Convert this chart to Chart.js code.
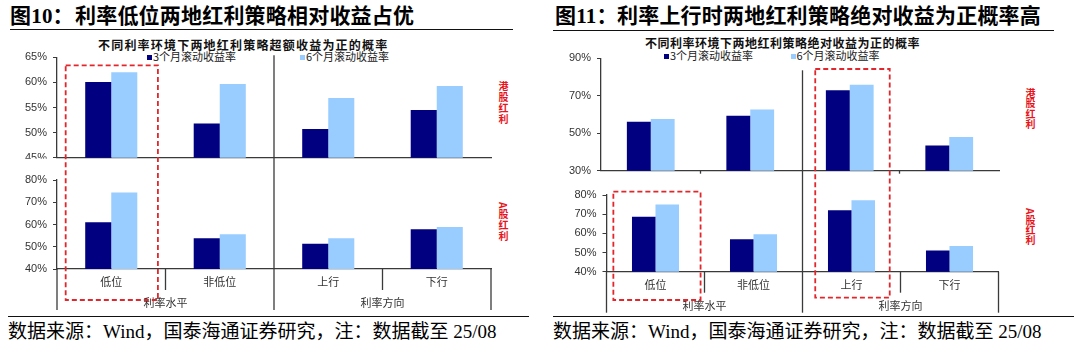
<!DOCTYPE html>
<html><head><meta charset="utf-8">
<script src="https://cdn.jsdelivr.net/npm/chart.js@4.4.0/dist/chart.umd.min.js"></script>
<style>
html,body{margin:0;padding:0;background:#fff;}
body{width:1080px;height:348px;position:relative;overflow:hidden;font-family:"Liberation Serif","Noto Sans CJK SC",serif;color:#000;}
canvas{position:absolute;left:0;top:0;}
.t{position:absolute;white-space:nowrap;}
.title{font-weight:bold;font-size:21px;line-height:21px;letter-spacing:0.2px;}
.sub{font-family:"Noto Sans CJK SC",sans-serif;font-weight:bold;font-size:12px;line-height:12px;color:#111;}
.lg{font-family:"Noto Sans CJK SC",sans-serif;font-size:11px;line-height:11px;color:#222;}
.sq{position:absolute;width:5px;height:5px;}
.red{position:absolute;writing-mode:vertical-rl;text-orientation:mixed;font-family:"Noto Sans CJK SC",sans-serif;font-weight:bold;font-size:10px;color:#e8141b;letter-spacing:1px;}
.hl{position:absolute;height:0;border-top:1.5px solid #111;}
.src{font-size:19px;line-height:19px;}
</style></head>
<body>
<div class="t title" style="left:10px;top:6px">图10：</div>
<div class="t title" style="left:75px;top:6px">利率低位两地红利策略相对收益占优</div>
<div class="t title" style="left:555px;top:6px">图11：</div>
<div class="t title" style="left:617px;top:6px">利率上行时两地红利策略绝对收益为正概率高</div>
<div class="hl" style="left:10px;top:29px;width:503px"></div>
<div class="hl" style="left:553px;top:30px;width:501px"></div>
<div class="t sub" style="left:98px;top:39px;letter-spacing:1.2px">不同利率环境下两地红利策略超额收益为正的概率</div>
<div class="t sub" style="left:645px;top:37px;letter-spacing:0.5px">不同利率环境下两地红利策略绝对收益为正的概率</div>
<div id="legends"></div>
<div class="red" style="left:496px;top:81px">港股红利</div>
<div class="red" style="left:496px;top:202px">A股红利</div>
<div class="red" style="left:1023px;top:88px;letter-spacing:0.4px">港股红利</div>
<div class="red" style="left:1023px;top:208px;letter-spacing:0.4px">A股红利</div>
<div class="hl" style="left:8px;top:316px;width:521px"></div>
<div class="hl" style="left:553px;top:316px;width:521px"></div>
<div class="t src" style="left:8px;top:322px">数据来源：Wind，国泰海通证券研究，注：数据截至 25/08</div>
<div class="t src" style="left:553px;top:322px">数据来源：Wind，国泰海通证券研究，注：数据截至 25/08</div>

<canvas id="cLT" width="1080" height="348"></canvas>
<canvas id="cLB" width="1080" height="348"></canvas>
<canvas id="cRT" width="1080" height="348"></canvas>
<canvas id="cRB" width="1080" height="348"></canvas>

<script>
// ---- data ----
const categories = ['低位', '非低位', '上行', '下行'];
const groupLabels = ['利率水平', '利率方向'];
const seriesNames = ['3个月滚动收益率', '6个月滚动收益率'];
// 图10: 超额收益为正的概率 (%)
const excessHK3m = [60.1, 51.8, 50.7, 54.5];
const excessHK6m = [62.0, 59.7, 56.9, 59.3];
const excessA3m  = [61.0, 53.8, 51.4, 57.9];
const excessA6m  = [74.4, 55.6, 53.8, 58.9];
// 图11: 绝对收益为正的概率 (%)
const absHK3m = [56.1, 59.3, 72.9, 43.5];
const absHK6m = [57.6, 62.7, 75.9, 48.0];
const absA3m  = [68.6, 56.9, 72.0, 51.1];
const absA6m  = [75.1, 59.5, 77.2, 53.4];
// y-axis tick settings [min, max, step]
const ticksLT = [45, 65, 5];
const ticksLB = [40, 80, 10];
const ticksRT = [30, 90, 20];
const ticksRB = [40, 80, 10];

const colors = ['#000080', '#99ccff'];
const charts = {};

// legends
(function(){
  const host = document.getElementById('legends');
  const spots = [[147, 57], [300, 57], [664, 56], [790.5, 56]];
  spots.forEach((p, k) => {
    const i = k % 2;
    const sq = document.createElement('div');
    sq.className = 'sq'; sq.style.background = colors[i];
    sq.style.left = p[0] + 'px'; sq.style.top = (p[1] - 2.5) + 'px';
    host.appendChild(sq);
    const tx = document.createElement('div');
    tx.className = 't lg'; tx.textContent = seriesNames[i];
    tx.style.left = (p[0] + 6) + 'px'; tx.style.top = (p[1] - 6.5) + 'px';
    host.appendChild(tx);
  });
})();

const deco = {
  id: 'deco',
  afterDraw(chart, args, o) {
    const ctx = chart.ctx, x = chart.scales.x, a = chart.chartArea;
    const cw = x.getPixelForValue(1) - x.getPixelForValue(0);
    const bnd = i => x.getPixelForValue(i) + cw / 2;
    const line = (x1, y1, x2, y2) => { ctx.beginPath(); ctx.moveTo(x1, y1); ctx.lineTo(x2, y2); ctx.stroke(); };
    ctx.save();
    ctx.strokeStyle = '#3a3a3a'; ctx.lineWidth = 1.3;
    if (o.cover) { ctx.fillStyle = '#fff'; ctx.fillRect(0, a.bottom + 1, a.left - 2, 9); }
    if (o.smallTicks) { line(bnd(0), a.bottom, bnd(0), a.bottom + 3); line(bnd(2), a.bottom, bnd(2), a.bottom + 3); }
    if (o.bottomAxis) {
      const b = a.bottom;
      line(bnd(0), b, bnd(0), b + 21);
      line(bnd(2), b, bnd(2), b + 21);
      line(a.left, b, a.left, b + 41);
      line(a.right, b, a.right, b + 41);
      const tc = charts[o.topChart].chartArea;
      line(bnd(1), tc.top + o.midOffset, bnd(1), b + 41);
      ctx.fillStyle = '#333';
      ctx.font = '11px "Noto Sans CJK SC"';
      ctx.textAlign = 'center'; ctx.textBaseline = 'middle';
      categories.forEach((c, i) => ctx.fillText(c, x.getPixelForValue(i), b + 13));
      groupLabels.forEach((g, j) => ctx.fillText(g, bnd(2 * j), b + 34));
      ctx.strokeStyle = '#e3262b'; ctx.lineWidth = 1.8; ctx.setLineDash([5, 3]);
      (o.boxes || []).forEach(bx => {
        const cx = x.getPixelForValue(bx.cat);
        const top = bx.fromTop ? tc.top + bx.top : a.top + bx.top;
        const x1 = cx - bx.l * cw, x2 = cx + bx.r * cw;
        ctx.strokeRect(x1, top, x2 - x1, b + bx.bottom - top);
      });
    }
    ctx.restore();
  }
};

function makeChart(id, d3, d6, tk, area, decoOpts) {
  const yW = 50;
  return new Chart(document.getElementById(id), {
    type: 'bar',
    data: {
      labels: categories,
      datasets: [
        { label: seriesNames[0], data: d3, backgroundColor: colors[0], borderWidth: 0 },
        { label: seriesNames[1], data: d6, backgroundColor: colors[1], borderWidth: 0 }
      ]
    },
    options: {
      responsive: false, animation: false, devicePixelRatio: 1,
      layout: { padding: { left: area.l - yW, top: area.t, right: 1080 - area.r, bottom: 348 - area.b } },
      datasets: { bar: { categoryPercentage: 0.48, barPercentage: 1.0 } },
      plugins: { legend: { display: false }, tooltip: { enabled: false }, deco: decoOpts },
      scales: {
        x: {
          afterFit: s => { s.height = 0; },
          ticks: { display: false },
          grid: { display: false, drawTicks: false },
          border: { display: true, color: '#3a3a3a', width: 1.3 }
        },
        y: {
          min: tk[0], max: tk[1],
          afterFit: s => { s.width = yW; },
          ticks: { stepSize: tk[2], padding: 6, color: '#333',
                   font: { family: 'Liberation Sans', size: 11 },
                   callback: v => v + '%' },
          grid: { display: true, drawOnChartArea: false, drawTicks: true, tickLength: 4, color: '#3a3a3a' },
          border: { display: true, color: '#3a3a3a', width: 1.3 }
        }
      }
    }
  });
}
Chart.register(deco);

charts.LT = makeChart('cLT', excessHK3m, excessHK6m, ticksLT, { l: 57, r: 491, t: 57.3, b: 157.7 }, { cover: true });
charts.LB = makeChart('cLB', excessA3m, excessA6m, ticksLB, { l: 57, r: 491, t: 180, b: 269 },
  { bottomAxis: true, topChart: 'LT', midOffset: -2,
    boxes: [{ cat: 0, l: 0.42, r: 0.43, fromTop: true, top: 8, bottom: 31 }] });
charts.RT = makeChart('cRT', absHK3m, absHK6m, ticksRT, { l: 601, r: 999, t: 58.3, b: 170.7 }, { smallTicks: true });
charts.RB = makeChart('cRB', absA3m, absA6m, ticksRB, { l: 606.5, r: 998.5, t: 195, b: 271.7 },
  { bottomAxis: true, topChart: 'RT', midOffset: 12,
    boxes: [{ cat: 0, l: 0.43, r: 0.46, fromTop: false, top: -3.3, bottom: 28.3 },
            { cat: 2, l: 0.37, r: 0.39, fromTop: true, top: 10.7, bottom: 26 }] });
</script>
</body></html>
